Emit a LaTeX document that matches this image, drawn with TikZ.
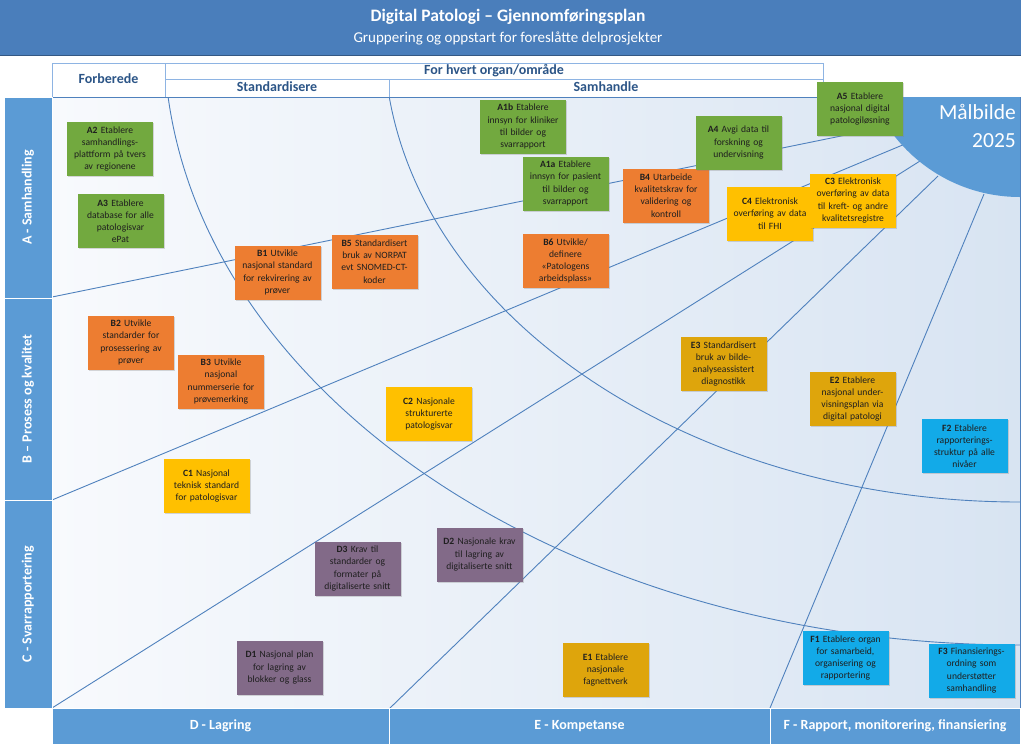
\documentclass[tikz,border=0pt]{standalone}
\usepackage{fontspec}
\setmainfont{Carlito}
\usetikzlibrary{shadows}

\definecolor{hdrblue}{HTML}{4A7EBB}
\definecolor{barblue}{HTML}{5B9BD5}
\definecolor{lineblue}{HTML}{4F81BD}
\definecolor{tabtext}{HTML}{2C5587}
\definecolor{tabline}{HTML}{8EB4E3}
\definecolor{grn}{HTML}{72A93F}
\definecolor{org}{HTML}{ED7D31}
\definecolor{yel}{HTML}{FFC000}
\definecolor{gld}{HTML}{DEA50C}
\definecolor{pur}{HTML}{826A88}
\definecolor{cyn}{HTML}{12AAE8}
\definecolor{bgleft}{HTML}{F8FAFD}
\definecolor{bgright}{HTML}{D8E4F2}

\tikzset{
  task/.style={rectangle, minimum width=86pt, minimum height=54pt, text width=85pt,
    inner sep=0.5pt, align=center, text=black!88, font=\fontsize{9.6}{12.2}\selectfont,
    drop shadow={shadow xshift=1pt, shadow yshift=-1pt, opacity=0.3}},
  cell/.style={draw=tabline, fill=white, inner sep=0pt, text=tabtext,
    text height=9pt, text depth=2pt, font=\fontsize{14}{15}\selectfont\bfseries},
  bar/.style={draw=white, fill=barblue, inner sep=0pt, text=white,
    font=\fontsize{14}{15}\selectfont\bfseries},
  trace/.style={lineblue, line width=0.9pt}
}

\begin{document}
\begin{tikzpicture}[x=1pt, y=-1pt]
  \useasboundingbox (0,0) rectangle (1024,748);

  % header
  \fill[hdrblue] (0,0) rectangle (1021,55);
  \draw[hdrblue!70!black] (0,55) -- (1021,55);
  \node[text=white, font=\fontsize{17.5}{20}\selectfont\bfseries] (title) at (508,17) {Digital Patologi -- Gjennomføringsplan};
  \node[text=white, font=\fontsize{15}{18}\selectfont] (subtitle) at (508,38) {Gruppering og oppstart for foreslåtte delprosjekter};

  % phases
  \node[cell, minimum width=113pt, minimum height=34pt] (forb) at (108.5,80) {Forberede};
  \node[cell, minimum width=658pt, minimum height=16pt] (organ) at (494,71) {For hvert organ/område};
  \node[cell, minimum width=224pt, minimum height=18pt] (stand) at (277,88) {Standardisere};
  \node[cell, minimum width=434pt, minimum height=18pt] (samh) at (606,88) {Samhandle};

  % field
  \shade[left color=bgleft, right color=bgright] (52,97) rectangle (1020,708);
  \draw[lineblue] (52,97) -- (1020,97) -- (1020,708);

  % boundaries
  \coordinate (ab) at (52,297);
  \coordinate (bc) at (52,500);
  \coordinate (cd) at (52,708);
  \coordinate (de) at (390,708);
  \coordinate (ef) at (770,708);
  \coordinate (t1) at (895,125);
  \coordinate (t2) at (905,144);
  \coordinate (t3) at (920,161);
  \coordinate (t4) at (938,176);
  \coordinate (t5) at (984,194);

  % trace
  \begin{scope}
    \clip (52,97) rectangle (1020,708);
    \draw[trace] (1020,37) ellipse [x radius=856, y radius=608];
    \draw[trace] (1020,37) ellipse [x radius=636, y radius=465];
    \foreach \s/\t in {ab/t1, bc/t2, cd/t3, de/t4, ef/t5}
      \draw[trace] (\s) -- (\t);
    \fill[barblue] (1020,37) circle [radius=160];
  \end{scope}
  \node[text=white, align=right, anchor=north east, inner sep=0pt,
    font=\fontsize{21.5}{28}\selectfont] (goal) at (1016,104) {Målbilde\\2025};

  % rows and columns
  \node[bar, rotate=90, minimum width=201pt, minimum height=48pt] (rowA) at (28,197.5) {A - Samhandling};
  \node[bar, rotate=90, minimum width=202pt, minimum height=48pt] (rowB) at (28,399) {B -- Prosess og kvalitet};
  \node[bar, rotate=90, minimum width=208pt, minimum height=48pt] (rowC) at (28,604) {C - Svarrapportering};
  \node[bar, minimum width=337pt, minimum height=36pt] (colD) at (220.5,726) {D - Lagring};
  \node[bar, minimum width=381pt, minimum height=36pt] (colE) at (579.5,726) {E - Kompetanse};
  \node[bar, minimum width=250pt, minimum height=36pt] (colF) at (895,726) {F - Rapport, monitorering, finansiering};

  % projects
  \foreach \id/\x/\y/\col/\txt in {
    A2/110/149/grn/{Etablere\\samhandlings-\\plattform på tvers\\av regionene},
    A3/120.5/221/grn/{Etablere\\database for alle\\patologisvar\\ePat},
    B1/277.5/272.5/org/{Utvikle\\nasjonal standard\\for rekvirering av\\prøver},
    B5/374.5/261.5/org/{Standardisert\\bruk av NORPAT\\evt SNOMED-CT-\\koder},
    A1b/523/126.5/grn/{Etablere\\innsyn for kliniker\\til bilder og\\svarrapport},
    A1a/565.5/183.5/grn/{Etablere\\innsyn for pasient\\til bilder og\\svarrapport},
    B4/666/195.5/org/{Utarbeide\\kvalitetskrav for\\validering og\\kontroll},
    B6/565.5/261/org/{Utvikle/\\definere\\«Patologens\\arbeidsplass»},
    A4/738.5/142.5/grn/{Avgi data til\\forskning og\\undervisning},
    A5/860/109/grn/{Etablere\\nasjonal digital\\patologiløsning},
    C4/770/213.5/yel/{Elektronisk\\overføring av data\\til FHI},
    C3/853/200.5/yel/{Elektronisk\\overføring av data\\til kreft- og andre\\kvalitetsregistre},
    B2/131/342.5/org/{Utvikle\\standarder for\\prosessering av\\prøver},
    B3/221/381.5/org/{Utvikle\\nasjonal\\nummerserie for\\prøvemerking},
    C1/206.5/486/yel/{Nasjonal\\teknisk standard\\for patologisvar},
    C2/429/414/yel/{Nasjonale\\strukturerte\\patologisvar},
    E3/723.5/364/gld/{Standardisert\\bruk av bilde-\\analyseassistert\\diagnostikk},
    E2/852.5/399/gld/{Etablere\\nasjonal under-\\visningsplan via\\digital patologi},
    F2/964.5/446/cyn/{Etablere\\rapporterings-\\struktur på alle\\nivåer},
    D3/357.5/568.5/pur/{Krav til\\standarder og\\formater på\\digitaliserte snitt},
    D2/479.5/554.5/pur/{Nasjonale krav\\til lagring av\\digitaliserte snitt},
    D1/279.5/667.5/pur/{Nasjonal plan\\for lagring av\\blokker og glass},
    E1/605.5/670/gld/{Etablere\\nasjonale\\fagnettverk},
    F1/845.5/658/cyn/{Etablere organ\\for samarbeid,\\organisering og\\rapportering},
    F3/971.5/670.5/cyn/{Finansierings-\\ordning som\\understøtter\\samhandling}} {
    \node[task, fill=\col] (\id) at (\x,\y) {\textbf{\id} \txt};
  }
\end{tikzpicture}
\end{document}
